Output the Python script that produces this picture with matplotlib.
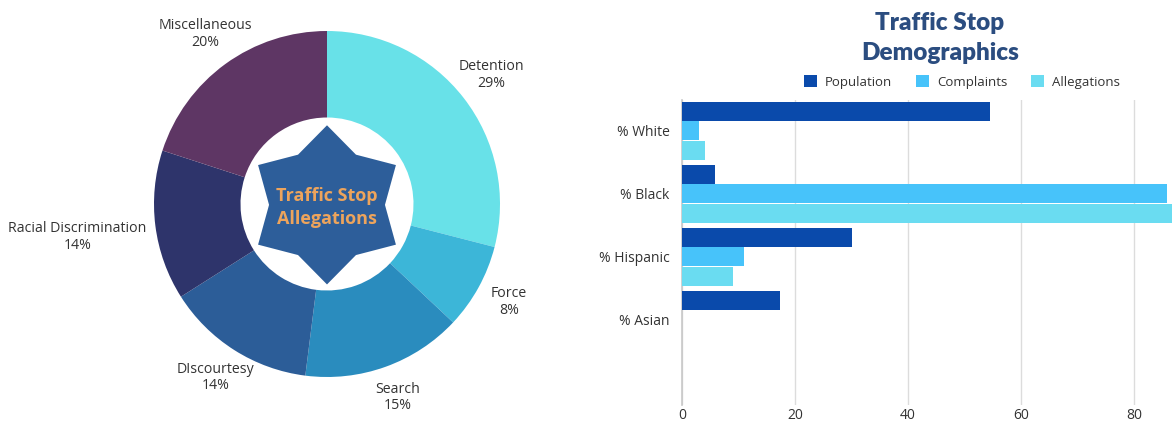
import numpy as np
import matplotlib.pyplot as plt
from matplotlib.patches import Polygon

plt.rcParams['font.family'] = ['Open Sans', 'DejaVu Sans']

# allegation breakdown (donut)
allegation_types = ['Detention', 'Force', 'Search', 'DIscourtesy',
                    'Racial Discrimination', 'Miscellaneous']
allegation_pct = [29, 8, 15, 14, 14, 20]
allegation_colors = ['#68e1e8', '#3cb6d8', '#2a8cbe', '#2c5d98', '#2e346b', '#5e3664']

# demographics (grouped bars)
groups = ['% White', '% Black', '% Hispanic', '% Asian']
population = [54.5, 5.9, 30.1, 17.4]
complaints = [3.0, 85.8, 11.0, 0]
allegations = [4.0, 88.5, 9.0, 0]
series_names = ['Population', 'Complaints', 'Allegations']
series_colors = ['#0a4aab', '#47c3fa', '#6adcf1']

W, H = 1172, 424
fig = plt.figure(figsize=(W / 100, H / 100), dpi=100)

# ---- donut ----
cx, cy, r = 327, 204, 173
ax = fig.add_axes([(cx - r) / W, (H - cy - r) / H, 2 * r / W, 2 * r / H])
ax.pie(allegation_pct, colors=allegation_colors, startangle=90, counterclock=False,
       radius=1, wedgeprops=dict(width=0.5, linewidth=0))
ax.set_xlim(-1, 1)
ax.set_ylim(-1, 1)
ax.set_aspect('equal')
ax.axis('off')

# labels at slice mid-angles
start = 90.0
for name, pct in zip(allegation_types, allegation_pct):
    span = pct / sum(allegation_pct) * 360
    mid = np.deg2rad(start - span / 2)
    start -= span
    c, s = np.cos(mid), np.sin(mid)
    if abs(c) > 0.95:
        ax.text(1.05 * c, 1.05 * s - 0.06, f'{name}\n{pct}%', ha='right' if c < 0 else 'left',
                va='center', multialignment='center', fontsize=10.2, color='#333333',
                linespacing=1.15)
    else:
        ax.text(1.2 * c, 1.2 * s + 0.01, f'{name}\n{pct}%', ha='center', va='center',
                fontsize=10.2, color='#333333', linespacing=1.15)

# six-pointed star in the hole
ang = np.deg2rad(90 + np.arange(12) * 30)
rad = np.where(np.arange(12) % 2 == 0, 0.46, 0.335)
star = np.column_stack([rad * np.cos(ang), rad * np.sin(ang) - 0.005])
ax.add_patch(Polygon(star, closed=True, facecolor='#2d5e9a', edgecolor='none', zorder=3))
ax.text(0, -0.02, 'Traffic Stop\nAllegations', ha='center', va='center', fontsize=13,
        fontweight='bold', color='#eda45c', linespacing=1.3, zorder=4)

# ---- grouped bars ----
bx = fig.add_axes([682 / W, (H - 405) / H, (W - 682) / W, 305 / H])
y = np.arange(len(groups))
h = 0.3
for i, (vals, col) in enumerate(zip([population, complaints, allegations], series_colors)):
    bx.barh(y - h + i * (h + 0.01), vals, height=h, color=col, linewidth=0,
            label=series_names[i], zorder=3)

bx.set_xlim(0, 86.7)
bx.set_ylim(4.36, -0.48)
bx.set_yticks(y)
bx.set_yticklabels(groups)
bx.set_xticks([0, 20, 40, 60, 80])
bx.tick_params(axis='both', length=0, labelsize=10, labelcolor='#333333')
bx.tick_params(axis='x', pad=2)
bx.tick_params(axis='y', pad=9)
bx.grid(axis='x', color='#dcdcdc', linewidth=1)
bx.set_axisbelow(True)
for side in ['top', 'right', 'bottom']:
    bx.spines[side].set_visible(False)
bx.spines['left'].set_color('#c8c8c8')
bx.spines['left'].set_linewidth(1.2)

fig.text(940 / W, 1 - 38 / H, 'Traffic Stop\nDemographics', ha='center', va='center',
         fontsize=17.5, fontweight='heavy', color='#2b4d80', family=['Lato', 'DejaVu Sans'],
         linespacing=1.4)

handles, labels = bx.get_legend_handles_labels()
fig.legend(handles, labels, loc='center', bbox_to_anchor=(962 / W, 1 - 82 / H), ncol=3,
           frameon=False, fontsize=9.5, handlelength=1.0, handleheight=1.0,
           columnspacing=1.8, handletextpad=0.6, labelcolor='#333333')

fig.savefig('out.png', dpi=100)
